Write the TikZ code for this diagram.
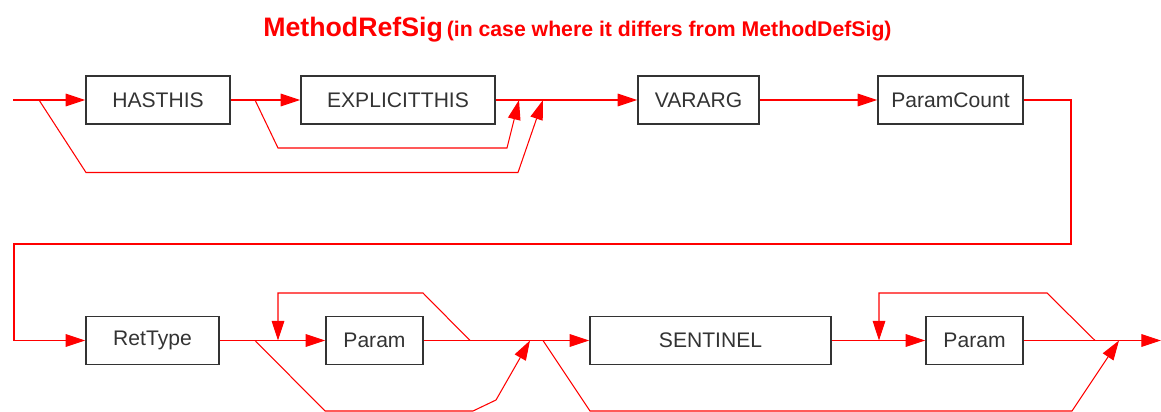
\documentclass[tikz,border=0pt]{standalone}
\usepackage{fontspec}
\setmainfont{Liberation Sans}
\usetikzlibrary{arrows.meta}
\definecolor{railred}{RGB}{255,0,0}
\definecolor{boxgray}{RGB}{51,51,51}
\begin{document}
\begin{tikzpicture}[x=0.025cm, y=-0.025cm,
  rail/.style={draw=railred, line width=0.75pt},
  tip/.style={-{Triangle[length=14pt, width=9pt]}},
  sigbox/.style={draw=boxgray, line width=1pt, text=boxgray, minimum height=1.2cm, inner sep=0pt, font=\fontsize{15}{18}\selectfont}]
\useasboundingbox (0,0) rectangle (1161,412);
\node[anchor=base west, text=railred, font=\bfseries, inner sep=0pt] (title) at (263,37) {{\fontsize{19}{22}\selectfont MethodRefSig} {\fontsize{15.1}{18}\selectfont (in case where it differs from MethodDefSig)}};
\node[sigbox, minimum width=3.6cm] (hasthis) at (158,100) {HASTHIS};
\node[sigbox, minimum width=4.85cm] (explicit) at (398,100) {EXPLICITTHIS};
\node[sigbox, minimum width=3.025cm] (vararg) at (698.5,100) {VARARG};
\node[sigbox, minimum width=3.625cm] (paramcount) at (950.5,100) {ParamCount};
\node[sigbox, minimum width=3.325cm] (rettype) at (152.5,340.5) {RetType};
\node[sigbox, minimum width=2.425cm] (param1) at (374.5,340.5) {Param};
\node[sigbox, minimum width=6.025cm] (sentinel) at (710.5,340.5) {SENTINEL};
\node[sigbox, minimum width=2.425cm] (param2) at (974.5,340.5) {Param};
\coordinate (start) at (13,100);
\coordinate (b1) at (39,100);
\coordinate (b2) at (255,100);
\coordinate (j1) at (519,100);
\coordinate (j2) at (543,100);
\coordinate (b3) at (255,340.5);
\coordinate (l1) at (278,340.5);
\coordinate (r1) at (470,340.5);
\coordinate (j3) at (530,340.5);
\coordinate (b4) at (543,340.5);
\coordinate (l2) at (879,340.5);
\coordinate (r2) at (1095,340.5);
\coordinate (j4) at (1119,340.5);
\coordinate (finish) at (1161,340.5);
% first line
\draw[rail] (start) -- (b1);
\draw[rail, tip] (b1) -- (hasthis.west);
\draw[rail] (hasthis.east) -- (b2);
\draw[rail, tip] (b2) -- (explicit.west);
\draw[rail] (explicit.east) -- (j2);
\draw[rail, tip] (j2) -- (vararg.west);
\draw[rail, tip] (b2) -- (278,148) -- (507,148) -- (j1);
\draw[rail, tip] (b1) -- (86,172.5) -- (518,172.5) -- (j2);
\draw[rail, tip] (vararg.east) -- (paramcount.west);
\draw[rail, tip] (paramcount.east) -- (1071,100) -- (1071,244) -- (14,244) -- (14,340.5) -- (rettype.west);
% second line
\draw[rail] (rettype.east) -- (l1);
\draw[rail, tip] (l1) -- (param1.west);
\draw[rail] (param1.east) -- (b4);
\draw[rail, tip] (r1) -- (423,293) -- (278,293) -- (l1);
\draw[rail, tip] (b3) -- (325,411) -- (473,411) -- (496,400) -- (j3);
\draw[rail, tip] (b4) -- (sentinel.west);
\draw[rail] (sentinel.east) -- (l2);
\draw[rail, tip] (l2) -- (param2.west);
\draw[rail, tip] (param2.east) -- (finish);
\draw[rail, tip] (r2) -- (1047,293) -- (879,293) -- (l2);
\draw[rail, tip] (b4) -- (590,411) -- (1072,411) -- (j4);
\end{tikzpicture}
\end{document}
